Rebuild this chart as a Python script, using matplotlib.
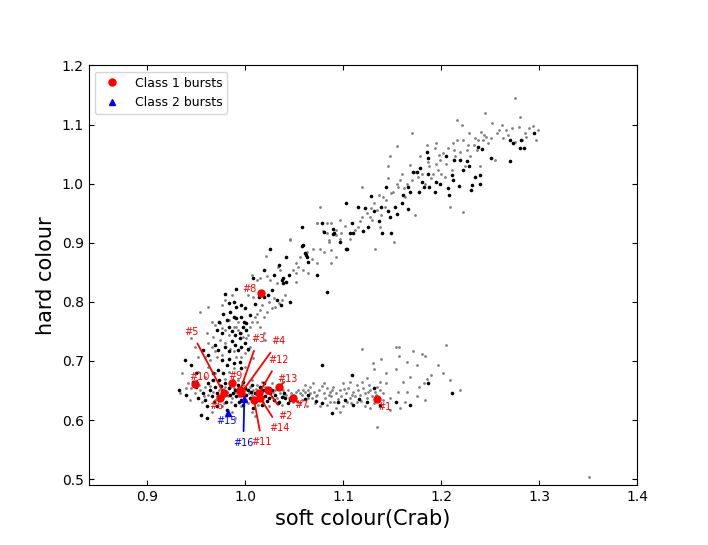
import numpy as np
import matplotlib
matplotlib.use("Agg")
from matplotlib import pyplot as plt

gray_pts = [
    # upper branch
    (1.076, 0.961), (1.073, 0.933), (1.079, 0.919), (1.083, 0.916), (1.085, 0.905),
    (1.088, 0.933), (1.093, 0.913), (1.097, 0.938), (1.098, 0.916), (1.107, 0.907),
    (1.112, 0.921), (1.115, 0.927), (1.119, 0.995), (1.119, 0.944), (1.124, 0.950),
    (1.127, 0.944), (1.129, 0.938), (1.131, 0.967), (1.132, 0.890), (1.134, 0.955),
    (1.136, 0.981), (1.137, 0.927), (1.141, 0.978), (1.143, 0.961), (1.144, 0.972),
    (1.146, 1.029), (1.146, 1.009), (1.148, 1.046), (1.149, 0.984), (1.152, 0.902),
    (1.155, 1.000), (1.155, 1.064), (1.156, 0.995), (1.158, 1.006), (1.160, 1.017),
    (1.163, 0.978), (1.165, 1.000), (1.168, 1.031), (1.170, 1.085), (1.170, 1.006),
    (1.173, 0.947), (1.173, 1.020), (1.178, 1.046), (1.180, 1.017), (1.183, 1.000),
    (1.185, 1.065), (1.188, 1.029), (1.190, 1.009), (1.192, 1.017), (1.194, 1.060),
    (1.195, 1.068), (1.195, 1.034), (1.197, 1.023), (1.199, 1.040), (1.200, 1.017),
    (1.202, 1.051), (1.204, 1.012), (1.205, 1.034), (1.207, 1.060), (1.209, 0.961),
    (1.211, 1.023), (1.212, 1.068), (1.214, 1.046), (1.216, 1.074), (1.216, 1.108),
    (1.219, 1.054), (1.221, 1.099), (1.222, 1.074), (1.222, 0.952), (1.224, 1.029),
    (1.226, 1.057), (1.228, 1.086), (1.229, 1.046), (1.233, 1.065), (1.234, 1.078),
    (1.236, 1.057), (1.238, 1.074), (1.240, 1.029), (1.241, 1.088), (1.243, 1.074),
    (1.245, 1.119), (1.246, 1.079), (1.248, 1.068), (1.251, 1.077), (1.252, 1.103),
    (1.255, 1.040), (1.259, 1.091), (1.262, 1.099), (1.263, 1.077), (1.268, 1.082),
    (1.272, 1.094), (1.275, 1.144), (1.275, 1.071), (1.279, 1.096), (1.280, 1.112),
    (1.282, 1.074), (1.287, 1.079), (1.290, 1.094), (1.294, 1.097), (1.297, 1.074),
    (1.299, 1.091),
    (1.102, 0.929), (1.117, 0.936), (1.139, 0.947), (1.151, 0.986), (1.162, 0.992),
    (1.176, 1.011), (1.186, 1.037), (1.198, 1.048), (1.213, 1.057), (1.227, 1.066),
    (1.244, 1.083), (1.257, 1.085), (1.266, 1.090), (1.285, 1.086), (1.128, 0.958),
    (1.073, 0.933), (1.083, 0.933), (1.093, 0.921), (1.097, 0.907), (1.085, 0.902),
    (1.076, 0.890), (1.080, 0.885), (1.088, 0.888), (1.069, 0.890), (1.063, 0.885),
    (1.056, 0.876), (1.052, 0.865), (1.068, 0.873), (1.073, 0.865), (1.059, 0.854),
    (1.064, 0.848), (1.052, 0.834), (1.088, 0.865), (1.093, 0.876), (1.046, 0.905),
    (1.046, 0.907), (1.033, 0.859), (1.035, 0.854), (1.022, 0.843), (1.025, 0.837),
    (1.012, 0.837), (1.049, 0.854), (1.052, 0.848), (1.054, 0.859), (1.021, 0.878),
    (1.015, 0.840), (1.032, 0.831), (1.007, 0.845),
    # lower part of the upper branch
    (0.954, 0.783), (0.962, 0.792), (0.966, 0.766), (0.969, 0.761), (0.974, 0.764),
    (0.976, 0.755), (0.979, 0.752), (0.983, 0.744), (0.988, 0.758), (0.991, 0.758),
    (0.993, 0.752), (0.996, 0.747), (0.998, 0.741), (1.001, 0.738), (1.003, 0.744),
    (1.005, 0.758), (1.007, 0.766), (1.010, 0.775), (1.012, 0.780), (1.015, 0.786),
    (1.019, 0.775), (1.022, 0.783), (1.027, 0.789), (1.030, 0.792), (1.034, 0.798),
    (1.037, 0.803), (1.041, 0.812), (1.029, 0.806), (1.024, 0.800), (1.017, 0.795),
    (1.008, 0.809), (1.003, 0.812), (0.979, 0.803), (0.976, 0.795), (0.986, 0.812),
    (0.962, 0.730), (0.966, 0.724), (0.969, 0.716), (0.959, 0.707), (0.964, 0.702),
    (0.971, 0.707), (0.976, 0.710), (0.979, 0.730), (0.984, 0.721), (0.988, 0.716),
    (0.991, 0.707), (0.996, 0.707), (1.000, 0.713), (1.005, 0.724), (0.989, 0.688),
    (1.000, 0.690), (0.962, 0.690), (0.952, 0.707), (0.949, 0.724), (0.945, 0.738),
    (0.961, 0.747), (0.967, 0.741), (0.974, 0.735), (0.983, 0.769), (0.993, 0.766),
    (1.012, 0.766), (1.015, 0.758), (1.019, 0.747), (1.020, 0.735), (1.003, 0.718),
    (1.008, 0.705),
    # lower branch, tail and scatter
    (1.119, 0.720), (1.154, 0.724), (1.157, 0.723), (1.205, 0.727), (1.130, 0.696),
    (1.131, 0.687), (1.139, 0.703), (1.157, 0.708), (1.171, 0.716), (1.180, 0.712),
    (1.183, 0.708), (1.165, 0.699), (1.175, 0.693), (1.154, 0.686), (1.144, 0.679),
    (1.124, 0.671), (1.137, 0.665), (1.161, 0.665), (1.168, 0.673), (1.182, 0.662),
    (1.190, 0.676), (1.197, 0.693), (1.202, 0.679), (1.209, 0.668), (1.219, 0.651),
    (1.177, 0.656), (1.165, 0.648), (1.156, 0.648), (1.175, 0.640), (1.183, 0.634),
    (1.163, 0.631), (1.148, 0.637), (1.141, 0.645), (1.158, 0.620), (1.148, 0.617),
    (1.185, 0.670), (1.134, 0.588), (1.351, 0.503),
    (1.056, 0.645), (1.059, 0.651), (1.066, 0.656), (1.069, 0.662), (1.068, 0.637),
    (1.073, 0.642), (1.075, 0.651), (1.080, 0.645), (1.081, 0.637), (1.083, 0.654),
    (1.086, 0.648), (1.088, 0.640), (1.090, 0.656), (1.091, 0.631), (1.093, 0.645),
    (1.097, 0.651), (1.098, 0.640), (1.100, 0.623), (1.103, 0.645), (1.105, 0.654),
    (1.107, 0.637), (1.110, 0.648), (1.112, 0.640), (1.114, 0.631), (1.115, 0.651),
    (1.117, 0.642), (1.120, 0.654), (1.122, 0.645), (1.124, 0.637), (1.126, 0.659),
    (1.127, 0.651), (1.129, 0.640), (1.132, 0.648), (1.134, 0.656), (1.136, 0.637),
    (1.137, 0.651), (1.083, 0.625), (1.076, 0.623), (1.097, 0.614), (1.122, 0.623),
    (1.127, 0.620), (1.063, 0.623), (1.100, 0.662), (1.114, 0.659), (1.093, 0.620),
    (1.108, 0.628), (1.064, 0.651), (1.071, 0.628), (1.086, 0.631), (1.131, 0.628),
    (1.144, 0.662), (1.119, 0.665), (1.107, 0.665), (1.080, 0.662),
    (1.058, 0.634), (1.061, 0.659), (1.070, 0.647), (1.078, 0.657), (1.085, 0.643),
    (1.095, 0.636), (1.101, 0.652), (1.109, 0.643), (1.118, 0.633), (1.125, 0.648),
    (1.133, 0.642), (1.141, 0.634), (1.104, 0.630), (1.089, 0.650), (1.072, 0.640),
    # dense core of the lower branch
    (0.935, 0.679), (0.942, 0.662), (0.945, 0.654), (0.949, 0.645), (0.954, 0.651),
    (0.959, 0.656), (0.962, 0.642), (0.967, 0.648), (0.969, 0.634), (0.973, 0.651),
    (0.974, 0.659), (0.976, 0.645), (0.978, 0.628), (0.981, 0.648), (0.984, 0.656),
    (0.986, 0.637), (0.988, 0.662), (0.991, 0.648), (0.995, 0.654), (0.996, 0.645),
    (0.998, 0.659), (1.001, 0.634), (1.005, 0.656), (1.007, 0.642), (1.008, 0.651),
    (1.012, 0.659), (1.013, 0.642), (1.017, 0.648), (1.020, 0.656), (1.022, 0.645),
    (1.025, 0.654), (1.027, 0.639), (1.030, 0.651), (1.032, 0.637), (1.035, 0.645),
    (1.039, 0.651), (1.042, 0.642), (1.044, 0.651), (1.047, 0.645), (1.051, 0.639),
    (1.054, 0.651), (1.058, 0.642), (1.061, 0.648), (1.064, 0.637), (1.066, 0.645),
    (0.966, 0.668), (0.979, 0.670), (0.993, 0.668), (1.007, 0.668), (1.017, 0.665),
    (1.027, 0.662), (0.969, 0.679), (0.983, 0.682), (0.959, 0.673), (0.952, 0.682),
    (0.976, 0.623), (0.996, 0.623), (1.013, 0.625), (1.024, 0.623), (1.037, 0.625),
    (0.986, 0.614), (1.007, 0.614), (0.966, 0.614), (0.990, 0.603), (1.010, 0.606),
    (0.949, 0.662), (0.939, 0.654), (0.933, 0.645), (0.944, 0.634), (0.956, 0.631),
    (1.049, 0.631), (1.056, 0.628), (1.018, 0.631), (0.979, 0.656), (1.010, 0.631),
    (0.964, 0.657), (0.971, 0.640), (0.977, 0.652), (0.982, 0.640), (0.989, 0.655),
    (0.994, 0.640), (1.000, 0.650), (1.004, 0.646), (1.011, 0.652), (1.016, 0.641),
    (1.021, 0.652), (1.028, 0.647), (1.033, 0.656), (1.038, 0.640), (1.045, 0.637),
    (1.052, 0.647), (0.958, 0.640), (0.953, 0.660), (0.985, 0.630), (1.003, 0.628),
]

black_pts = [
    # upper branch
    (1.058, 0.927), (1.059, 0.896), (1.061, 0.882), (1.063, 0.876), (1.078, 0.934),
    (1.090, 0.924), (1.090, 0.915), (1.097, 0.902), (1.103, 0.890), (1.103, 0.967),
    (1.109, 0.933), (1.110, 0.916), (1.115, 0.961), (1.120, 0.919), (1.122, 0.958),
    (1.125, 0.927), (1.128, 0.979), (1.131, 0.953), (1.136, 0.936), (1.139, 0.961),
    (1.140, 0.916), (1.144, 0.995), (1.146, 0.954), (1.148, 0.944), (1.149, 0.916),
    (1.153, 0.961), (1.155, 0.948), (1.160, 0.967), (1.161, 0.981), (1.166, 0.957),
    (1.166, 0.995), (1.168, 0.986), (1.171, 1.020), (1.175, 1.020), (1.177, 0.985),
    (1.178, 1.026), (1.180, 1.002), (1.182, 0.995), (1.185, 1.054), (1.186, 1.043),
    (1.187, 1.017), (1.188, 0.995), (1.194, 0.986), (1.195, 1.003), (1.199, 0.999),
    (1.205, 1.046), (1.207, 0.992), (1.208, 0.981), (1.211, 1.015), (1.212, 1.006),
    (1.213, 1.040), (1.218, 0.996), (1.219, 1.040), (1.222, 1.023), (1.226, 1.039),
    (1.228, 1.030), (1.230, 0.989), (1.231, 0.998), (1.234, 1.012), (1.238, 1.062),
    (1.240, 1.000), (1.240, 1.015), (1.242, 1.058), (1.251, 1.044), (1.270, 1.074),
    (1.270, 1.039), (1.273, 1.068), (1.280, 1.060), (1.281, 1.073), (1.284, 1.061),
    (1.295, 1.085),
    (1.080, 0.918), (1.091, 0.916), (1.107, 0.916), (1.104, 0.889), (1.058, 0.894),
    (1.062, 0.879), (1.064, 0.868), (1.073, 0.845), (1.083, 0.816), (1.046, 0.800),
    (1.025, 0.889), (1.019, 0.854), (1.034, 0.862), (1.042, 0.875), (1.039, 0.840),
    (1.045, 0.845), (1.029, 0.845), (1.008, 0.841), (1.037, 0.837),
    # lower part of the upper branch
    (0.979, 0.814), (0.991, 0.821), (0.983, 0.798), (0.989, 0.799), (0.991, 0.792),
    (0.996, 0.795), (1.000, 0.789), (1.010, 0.796), (1.014, 0.808), (1.019, 0.809),
    (1.023, 0.812), (1.027, 0.820), (1.032, 0.803), (1.036, 0.795), (1.039, 0.831),
    (1.042, 0.834), (0.977, 0.779), (0.984, 0.782), (0.988, 0.775), (0.991, 0.772),
    (0.973, 0.766), (0.981, 0.769), (0.996, 0.775), (0.999, 0.766), (1.005, 0.778),
    (1.001, 0.764), (0.983, 0.758), (0.971, 0.752), (0.976, 0.747), (0.986, 0.750),
    (0.990, 0.744), (0.995, 0.747), (0.998, 0.758), (1.001, 0.752), (0.986, 0.733),
    (0.990, 0.727), (0.995, 0.738), (0.993, 0.719), (0.996, 0.724), (1.000, 0.730),
    (1.003, 0.721), (0.979, 0.724), (0.983, 0.716), (0.969, 0.727), (0.972, 0.719),
    (0.957, 0.719), (0.962, 0.710), (0.938, 0.702), (0.945, 0.693), (0.976, 0.702),
    (0.981, 0.693), (0.983, 0.704), (0.988, 0.696), (0.995, 0.699), (0.996, 0.688),
    (0.972, 0.685), (0.977, 0.679), (0.967, 0.679), (0.950, 0.679),
    # lower branch
    (1.078, 0.693), (1.109, 0.676), (1.187, 0.663), (1.211, 0.645), (1.168, 0.625),
    (1.154, 0.631), (1.131, 0.654), (1.110, 0.625), (1.095, 0.631), (1.089, 0.612),
    (1.102, 0.634), (1.078, 0.629), (1.072, 0.633), (1.064, 0.642), (1.061, 0.635),
    (1.124, 0.631), (1.137, 0.625), (1.116, 0.635),
    (0.932, 0.650), (0.950, 0.656), (0.952, 0.637), (0.957, 0.645), (0.955, 0.608),
    (0.961, 0.623), (0.964, 0.651), (0.966, 0.640), (0.969, 0.656), (0.971, 0.645),
    (0.962, 0.662), (0.973, 0.668), (0.979, 0.662), (0.983, 0.654), (0.984, 0.642),
    (0.990, 0.651), (0.991, 0.640), (0.993, 0.659), (0.996, 0.634), (1.000, 0.654),
    (1.001, 0.642), (1.003, 0.651), (1.005, 0.637), (1.007, 0.659), (1.010, 0.645),
    (1.012, 0.634), (1.015, 0.656), (1.018, 0.651), (1.020, 0.640), (1.024, 0.637),
    (1.025, 0.645), (1.029, 0.634), (1.030, 0.642), (1.034, 0.631), (1.037, 0.639),
    (1.041, 0.637), (1.044, 0.628), (1.046, 0.634), (1.017, 0.625), (0.990, 0.625),
    (0.976, 0.637), (0.967, 0.668), (0.947, 0.665), (0.940, 0.642), (0.971, 0.623),
    (0.981, 0.617), (0.998, 0.625), (1.008, 0.620), (0.961, 0.603),
    (0.975, 0.658), (0.987, 0.646), (0.994, 0.630), (1.006, 0.648), (1.013, 0.639),
    (1.022, 0.633), (1.027, 0.650), (1.040, 0.645), (1.050, 0.640), (0.980, 0.630),
    (0.959, 0.634), (0.998, 0.664), (1.019, 0.662), (1.033, 0.628), (0.968, 0.630),
]

# class 1 bursts
burst1_ids = ["#1", "#2", "#3", "#4", "#5", "#6", "#7",
              "#8", "#9", "#10", "#11", "#12", "#13", "#14"]
burst1_soft = [1.134, 1.023, 0.995, 0.996, 0.978, 0.974, 1.049,
               1.016, 0.986, 0.949, 1.009, 1.014, 1.034, 1.015]
burst1_hard = [0.636, 0.650, 0.651, 0.646, 0.645, 0.638, 0.638,
               0.815, 0.663, 0.661, 0.634, 0.645, 0.656, 0.638]
burst1_label_soft = [1.142, 1.041, 1.013, 1.034, 0.945, 0.971, 1.057,
                     1.004, 0.990, 0.953, 1.017, 1.034, 1.043, 1.035]
burst1_label_hard = [0.622, 0.607, 0.737, 0.733, 0.749, 0.624, 0.625,
                     0.821, 0.675, 0.673, 0.562, 0.702, 0.669, 0.586]

# class 2 bursts
burst2_ids = ["#15", "#16"]
burst2_soft = [0.982, 0.999]
burst2_hard = [0.612, 0.635]
burst2_label_soft = [0.981, 0.998]
burst2_label_hard = [0.599, 0.561]


def main():
    """Draw the colour-colour diagram"""
    fig, ax = plt.subplots(figsize=(7.08, 5.45), dpi=100)

    gray = np.array(gray_pts)
    black = np.array(black_pts)
    ax.plot(gray[:, 0], gray[:, 1], "o", color="#808080", ms=2.0, mew=0, zorder=1)
    ax.plot(black[:, 0], black[:, 1], "o", color="black", ms=2.6, mew=0, zorder=2)

    ax.plot(burst1_soft, burst1_hard, "o", color="red", ms=5, zorder=4,
            label="Class 1 bursts")
    ax.plot(burst2_soft, burst2_hard, "^", color="blue", ms=5, zorder=4,
            label="Class 2 bursts")

    # labels with connecting lines
    for name, x, y, tx, ty in zip(burst1_ids, burst1_soft, burst1_hard,
                                  burst1_label_soft, burst1_label_hard):
        ax.annotate(name, xy=(x, y), xytext=(tx, ty), color="red", fontsize=7,
                    ha="center", va="center", zorder=5,
                    arrowprops=dict(arrowstyle="-", color="red", lw=1.3,
                                    shrinkA=3, shrinkB=0))
    for name, x, y, tx, ty in zip(burst2_ids, burst2_soft, burst2_hard,
                                  burst2_label_soft, burst2_label_hard):
        ax.annotate(name, xy=(x, y), xytext=(tx, ty), color="blue", fontsize=7,
                    ha="center", va="center", zorder=5,
                    arrowprops=dict(arrowstyle="-", color="blue", lw=1.3,
                                    shrinkA=3, shrinkB=0))

    ax.set_xlim(0.84, 1.4)
    ax.set_ylim(0.49, 1.2)
    ax.set_xticks([0.9, 1.0, 1.1, 1.2, 1.3, 1.4])
    ax.set_yticks([0.5, 0.6, 0.7, 0.8, 0.9, 1.0, 1.1, 1.2])
    ax.tick_params(direction="in", top=True, right=True)
    ax.set_xlabel("soft colour(Crab)", fontsize=15)
    ax.set_ylabel("hard colour", fontsize=15)
    ax.legend(loc="upper left", fontsize=9)

    fig.subplots_adjust(left=0.125, right=0.9, top=0.88, bottom=0.11)
    fig.savefig("out.png", dpi=100)

#-------------------------------------------------------------------------------

if __name__ == "__main__":
    main()
